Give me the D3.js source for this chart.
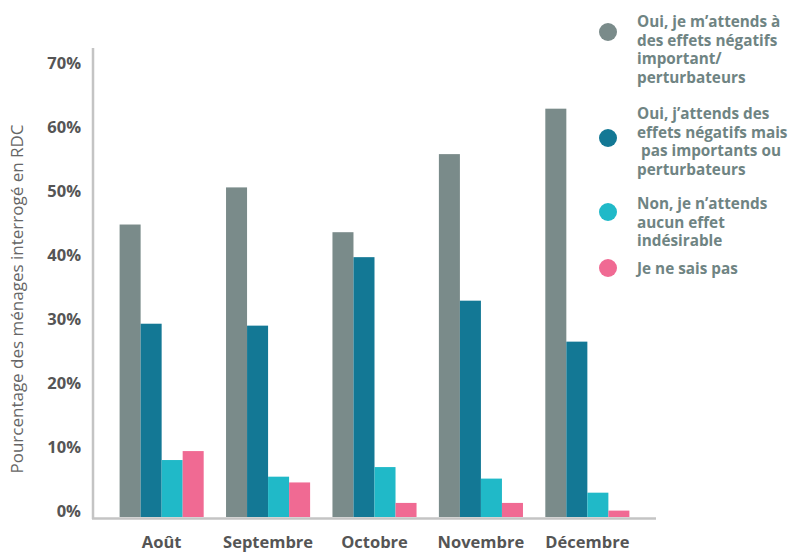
<!DOCTYPE html>
<html>
<head>
<meta charset="utf-8">
<script src="https://cdn.jsdelivr.net/npm/d3@7"></script>
<style>
  body { margin: 0; background: #fff; }
  text { font-family: "Open Sans", sans-serif; }
</style>
</head>
<body>
<div id="chart"></div>
<script>
// months on the x axis
const months = ["Août", "Septembre", "Octobre", "Novembre", "Décembre"];

// one array per answer, in percent
const series1 = [45.7, 51.5, 44.5, 56.7, 63.8]; // effets importants / perturbateurs
const series2 = [30.2, 29.9, 40.6, 33.8, 27.4]; // effets pas importants
const series3 = [8.9, 6.3, 7.8, 6.0, 3.8];      // aucun effet
const series4 = [10.3, 5.4, 2.2, 2.2, 1.0];     // ne sait pas

const legendLabels = [
  ["Oui, je m\u2019attends à", "des effets négatifs", "important/", "perturbateurs"],
  ["Oui, j\u2019attends des", "effets négatifs mais", "\u00a0pas importants ou", "perturbateurs"],
  ["Non, je n\u2019attends", "aucun effet", "indésirable"],
  ["Je ne sais pas"]
];
const colors = ["#7a8b8a", "#137895", "#20b9c8", "#f06a93"];
const yTicks = [0, 10, 20, 30, 40, 50, 60, 70];

const allSeries = [series1, series2, series3, series4];

const width = 791, height = 552;
const svg = d3.select("#chart")
  .append("svg")
    .attr("width", width)
    .attr("height", height);

const x0 = 93, x1 = 656, yBase = 517;

const xScale = d3.scaleBand()
  .domain(months)
  .range([x0, x1])
  .paddingInner(0.21)
  .paddingOuter(0.25);

const xSub = d3.scaleBand()
  .domain(d3.range(allSeries.length))
  .range([0, xScale.bandwidth()]);

const yScale = d3.scaleLinear()
  .domain([0, 70])
  .range([yBase, 69]);

// bars
months.forEach(function(m, i) {
  allSeries.forEach(function(s, j) {
    svg.append("rect")
      .attr("x", xScale(m) + xSub(j))
      .attr("y", yScale(s[i]))
      .attr("width", xSub.bandwidth())
      .attr("height", yBase - yScale(s[i]))
      .attr("fill", colors[j]);
  });
});

// y axis (labels only, line drawn separately)
const yAxis = svg.append("g")
  .attr("transform", `translate(${x0}, 0)`)
  .call(d3.axisLeft(yScale).tickValues(yTicks).tickFormat(d => d + "%").tickSize(0).tickPadding(12));
yAxis.select(".domain").remove();
yAxis.selectAll("text")
  .attr("dy", "-0.05em")
  .style("font-size", "16.5px")
  .style("font-weight", "bold")
  .style("fill", "#555");

svg.append("line")
  .attr("x1", x0).attr("x2", x0)
  .attr("y1", 48).attr("y2", yBase + 2)
  .attr("stroke", "#c4c4c4").attr("stroke-width", 2.5);

// x axis
const xAxis = svg.append("g")
  .attr("transform", `translate(0, ${yBase})`)
  .call(d3.axisBottom(xScale).tickSize(0).tickPadding(19));
xAxis.select(".domain").remove();
xAxis.selectAll("text")
  .style("font-size", "16.5px")
  .style("font-weight", "bold")
  .style("fill", "#555");

svg.append("line")
  .attr("x1", x0 - 1).attr("x2", x1)
  .attr("y1", yBase + 1.5).attr("y2", yBase + 1.5)
  .attr("stroke", "#c4c4c4").attr("stroke-width", 2.5);

// y axis title
svg.append("text")
  .attr("transform", "translate(23, 299) rotate(-90)")
  .attr("text-anchor", "middle")
  .style("font-size", "17px")
  .style("fill", "#666")
  .text("Pourcentage des ménages interrogé en RDC");

// legend
const legendTop = [21, 113, 203, 268];
const dotY = [32, 138, 212, 268];
const lineH = 18.5;
legendLabels.forEach(function(lines, j) {
  const g = svg.append("g");
  g.append("circle")
    .attr("cx", 608)
    .attr("cy", dotY[j])
    .attr("r", 9)
    .attr("fill", colors[j]);
  const t = g.append("text")
    .attr("x", 637)
    .attr("y", legendTop[j])
    .attr("dominant-baseline", "central")
    .style("font-size", "15.3px")
    .style("font-weight", "bold")
    .style("fill", "#6f8483");
  lines.forEach(function(l, k) {
    t.append("tspan")
      .attr("x", 637)
      .attr("dy", k === 0 ? 0 : lineH)
      .text(l);
  });
});
</script>
</body>
</html>
